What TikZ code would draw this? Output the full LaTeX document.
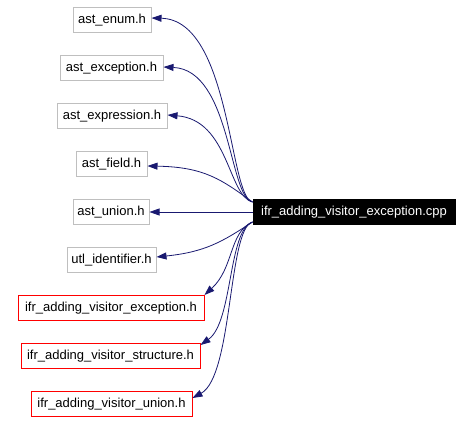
\documentclass[tikz,border=0pt]{standalone}
\usepackage{fontspec}
\setmainfont{Liberation Sans}
\usetikzlibrary{arrows.meta,calc}
\definecolor{edgeblue}{HTML}{191970}
\definecolor{boxgray}{HTML}{BFBFBF}
\tikzset{
  filebox/.style={draw=boxgray, line width=1pt, minimum height=25pt, inner sep=0pt, font=\fontsize{13}{15}\selectfont},
  redbox/.style={filebox, draw=red},
  mainbox/.style={filebox, draw=black, fill=black, text=white},
  edge/.style={draw=edgeblue, line width=0.8pt, -{Triangle[length=10pt,width=7pt]}}
}
\begin{document}
\begin{tikzpicture}[x=1pt,y=-1pt]
\useasboundingbox (0,0) rectangle (472,422);
\node[filebox, minimum width=78pt] (enum) at (112,20) {ast\_enum.h};
\node[filebox, minimum width=103pt] (exc) at (111.5,68) {ast\_exception.h};
\node[filebox, minimum width=110pt] (expr) at (112,116) {ast\_expression.h};
\node[filebox, minimum width=71pt] (field) at (111.5,164) {ast\_field.h};
\node[filebox, minimum width=76pt] (union) at (111,212) {ast\_union.h};
\node[filebox, minimum width=89pt] (utl) at (111.5,260) {utl\_identifier.h};
\node[redbox, minimum width=186pt] (ifrexc) at (111,308) {ifr\_adding\_visitor\_exception.h};
\node[redbox, minimum width=179pt] (ifrstr) at (110.5,356) {ifr\_adding\_visitor\_structure.h};
\node[redbox, minimum width=161pt] (ifruni) at (111.5,404) {ifr\_adding\_visitor\_union.h};
\node[mainbox, minimum width=202pt] (main) at (354,212) {ifr\_adding\_visitor\_exception.cpp};

\draw[edge] ([yshift=10pt]main.west) .. controls (229,198) and (231,20) .. ([yshift=2pt]enum.east);
\draw[edge] ([yshift=10pt]main.west) .. controls (229,198) and (231,70) .. ([yshift=1pt]exc.east);
\draw[edge] ([yshift=10pt]main.west) .. controls (228,196) and (229,120) .. ([yshift=1pt]expr.east);
\draw[edge] ([yshift=10pt]main.west) .. controls (222,180) and (205,167) .. ([yshift=-2pt]field.east);
\draw[edge] (main.west) -- (union.east);
\draw[edge] ([yshift=-10pt]main.west) .. controls (222,242) and (205,252) .. ([yshift=3pt]utl.east);
\draw[edge] ([yshift=-10pt]main.west) .. controls (229,232) and (234,268) .. (ifrexc.north east);
\draw[edge] ([yshift=-10pt]main.west) .. controls (228,230) and (233,322) .. ([yshift=-2pt]ifrstr.north east);
\draw[edge] ([yshift=-10pt]main.west) .. controls (228,228) and (233,376) .. ([yshift=6pt]ifruni.east);
\end{tikzpicture}
\end{document}
